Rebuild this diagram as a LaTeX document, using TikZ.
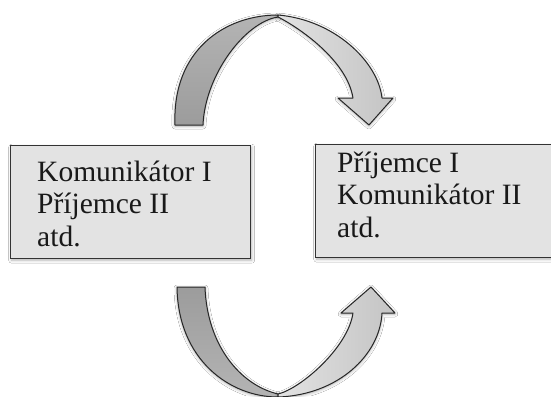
\documentclass[tikz,border=0pt]{standalone}
\usepackage{fontspec}
\setmainfont{Liberation Serif}
\usetikzlibrary{shadows.blur}
\definecolor{boxfill}{HTML}{E3E3E3}
\definecolor{edge}{HTML}{333333}
\definecolor{darkA}{HTML}{9C9C9C}
\definecolor{darkB}{HTML}{B4B4B4}
\definecolor{lightA}{HTML}{C4C4C4}
\definecolor{lightB}{HTML}{E2E2E2}
\begin{document}
\begin{tikzpicture}[x=1pt,y=-1pt,
  box/.style={draw=edge, line width=1.4pt, fill=boxfill, inner sep=0pt, anchor=north west,
    blur shadow={shadow xshift=1pt, shadow yshift=-1.5pt, shadow blur radius=3pt, shadow opacity=30}},
  txt/.style={font=\fontsize{29.5}{32.5}\selectfont, align=left, inner sep=0pt, text=black!90, anchor=north west},
  piece/.style={draw=black!85, line width=1pt, line join=round,
    blur shadow={shadow xshift=0pt, shadow yshift=-1pt, shadow blur radius=3pt, shadow opacity=35}}]
\useasboundingbox (0,0) rectangle (551,396);
\clip (0,0) rectangle (551,396);
\fill[white] (0,0) rectangle (551,396);

% boxes
\node[box, minimum width=240pt, minimum height=113pt] (L) at (10,145) {};
\node[box, minimum width=250pt, minimum height=113pt] (R) at (315,144) {};
% first baseline at y=181 (left) and y=172 (right); strut height = 0.7*32.5 = 22.75
\node[txt] (Lt) at (37,158.25) {\strut Komunikátor I\\Příjemce II\\atd.};
\node[txt] (Rt) at (337,149.25) {\strut Příjemce I\\Komunikátor II\\atd.};

% top arrow
\path[piece, bottom color=darkA, top color=darkB]
  (175,125) .. controls (172,50) and (225,15) .. (278,15)
  -- (278,17) .. controls (245,22) and (205,75) .. (203,125) -- cycle;
\path[piece, left color=lightB, right color=lightA]
  (278,15) .. controls (335,20) and (378,62) .. (382,98)
  -- (393,98) -- (369,125) -- (338,98) -- (353,98)
  .. controls (347,60) and (298,27) .. (278,17) -- cycle;

% bottom arrow
\path[piece, top color=darkA, bottom color=darkB]
  (177,287) .. controls (178,360) and (230,397) .. (278,397)
  -- (278,394) .. controls (240,385) and (207,345) .. (205,287) -- cycle;
\path[piece, left color=lightB, right color=lightA]
  (278,397) .. controls (338,395) and (380,355) .. (382,313)
  -- (395,313) -- (371,287) -- (341,313) -- (353,313)
  .. controls (348,348) and (300,389) .. (278,394) -- cycle;
\end{tikzpicture}
\end{document}
